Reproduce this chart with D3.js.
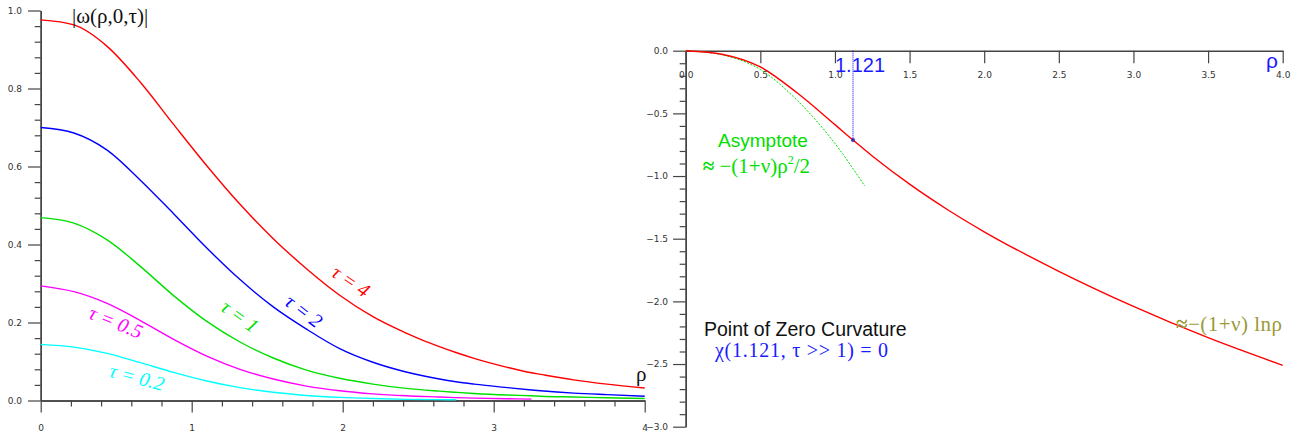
<!DOCTYPE html>
<html>
<head>
<meta charset="utf-8">
<script src="https://cdn.jsdelivr.net/npm/d3@7.9.0/dist/d3.min.js"></script>
<style>
  html, body { margin: 0; padding: 0; background: #fff; }
  svg { display: block; }
</style>
</head>
<body>
<svg id="chart" width="1300" height="436"></svg>
<script>
"use strict";

// ---- left panel: |omega(rho,0,tau)| for several tau ----
const RHO_L = [0, 0.22, 0.44, 0.66, 0.88, 1.10, 1.32, 1.54, 1.76, 1.98, 2.20, 2.42, 2.64, 2.75, 2.87, 3.09, 3.25, 3.31, 3.53, 3.75, 4.0];
const OMEGA_TAU4 = [0.976, 0.963, 0.908, 0.816, 0.708, 0.602, 0.503, 0.415, 0.338, 0.270, 0.215, 0.173, 0.138, 0.123, 0.108, 0.085, 0.071, 0.067, 0.053, 0.042, 0.032];
const OMEGA_TAU2 = [0.700, 0.686, 0.642, 0.565, 0.479, 0.391, 0.310, 0.240, 0.183, 0.133, 0.098, 0.073, 0.055, 0.048, 0.042, 0.033, 0.027, 0.025, 0.019, 0.015, 0.011];
const OMEGA_TAU1 = [0.469, 0.455, 0.412, 0.344, 0.269, 0.203, 0.150, 0.109, 0.078, 0.057, 0.042, 0.031, 0.024, 0.021, 0.018, 0.014, 0.012, 0.011, 0.009, 0.007, 0.005];
const OMEGA_TAU05 = [0.294, 0.279, 0.249, 0.205, 0.157, 0.114, 0.080, 0.055, 0.037, 0.025, 0.017, 0.012, 0.009, 0.0075, 0.0062, 0.0045, 0.0035, null, null, null, null];
const OMEGA_TAU02 = [0.144, 0.137, 0.121, 0.097, 0.072, 0.050, 0.033, 0.021, 0.013, 0.008, 0.005, 0.003, 0.0022, 0.002, null, null, null, null, null, null, null];

const LEFT_SERIES = [
    { label: "τ = 4", values: OMEGA_TAU4, color: "#ff0000" },
    { label: "τ = 2", values: OMEGA_TAU2, color: "#0000ff" },
    { label: "τ = 1", values: OMEGA_TAU1, color: "#00e000" },
    { label: "τ = 0.5", values: OMEGA_TAU05, color: "#ff00ff" },
    { label: "τ = 0.2", values: OMEGA_TAU02, color: "#00ffff" },
];

// ---- right panel: chi(rho) for tau >> 1 and its small-rho asymptote ----
const RHO_R = [0, 0.25, 0.5, 0.75, 1.0, 1.121, 1.25, 1.5, 1.75, 2.0, 2.5, 3.0, 3.5, 4.0];
const CHI = [0, -0.03, -0.13, -0.34, -0.59, -0.713, -0.840, -1.065, -1.265, -1.445, -1.760, -2.040, -2.290, -2.510];
const RHO_ASYM = [0, 0.25, 0.5, 0.75, 1.0, 1.2];
const CHI_ASYM = [0, -0.035, -0.15, -0.40, -0.74, -1.08];
const ZERO_CURV = [1.121, -0.713];

const LEFT_X_TICKS = [0, 1, 2, 3, 4];
const LEFT_Y_TICKS = [0, 0.2, 0.4, 0.6, 0.8, 1.0];
const RIGHT_X_TICKS = [0, 0.5, 1, 1.5, 2, 2.5, 3, 3.5, 4];
const RIGHT_Y_TICKS = [-3, -2.5, -2, -1.5, -1, -0.5, 0];

const AXIS_COLOR = "#444";
const TICK_FONT = "DejaVu Sans, sans-serif";
const SERIF = "Liberation Serif, Times New Roman, serif";
const SANS = "Liberation Sans, Arial, sans-serif";

const svg = d3.select("#chart");

const xL = d3.scaleLinear().domain([0, 4]).range([40.7, 644.7]);
const yL = d3.scaleLinear().domain([0, 1]).range([400.5, 10.5]);
const xR = d3.scaleLinear().domain([0, 4]).range([685.7, 1282.7]);
const yR = d3.scaleLinear().domain([-3, 0]).range([426.7, 50.7]);

function minorTicks(lo, hi, step, majorStep) {
    const out = [];
    const n = Math.round((hi - lo) / step);
    for (let i = 0; i <= n; i++) {
        const v = lo + i * step;
        const r = v / majorStep;
        if (Math.abs(r - Math.round(r)) > 1e-6) out.push(v);
    }
    return out;
}

function styleAxis(g) {
    g.select(".domain").attr("stroke", AXIS_COLOR).attr("stroke-width", 1.4);
    g.selectAll(".tick line").attr("stroke", AXIS_COLOR).attr("stroke-width", 1.2);
    g.selectAll(".tick text")
        .attr("fill", "#333")
        .style("font-family", TICK_FONT)
        .style("font-size", "9px");
}

// Left axes
svg.append("g")
    .attr("transform", `translate(0, ${yL(0)})`)
    .call(d3.axisBottom(xL).tickValues(minorTicks(0, 4, 0.2, 1)).tickSize(6).tickSizeOuter(0).tickFormat(""))
    .call(styleAxis);
svg.append("g")
    .attr("transform", `translate(0, ${yL(0)})`)
    .call(d3.axisBottom(xL).tickValues(LEFT_X_TICKS).tickSize(12).tickSizeOuter(0).tickPadding(12).tickFormat(d3.format("d")))
    .call(styleAxis);
svg.append("g")
    .attr("transform", `translate(${xL(0)}, 0)`)
    .call(d3.axisLeft(yL).tickValues(minorTicks(0, 1, 0.04, 0.2)).tickSize(6).tickSizeOuter(0).tickFormat(""))
    .call(styleAxis);
svg.append("g")
    .attr("transform", `translate(${xL(0)}, 0)`)
    .call(d3.axisLeft(yL).tickValues(LEFT_Y_TICKS).tickSize(12.7).tickSizeOuter(0).tickPadding(6).tickFormat(d3.format(".1f")))
    .call(styleAxis);

// Left curves
const lineL = d3.line()
    .defined((d) => d[1] != null)
    .x((d) => xL(d[0]))
    .y((d) => yL(d[1]))
    .curve(d3.curveMonotoneX);

svg.append("g")
    .selectAll("path")
    .data(LEFT_SERIES)
    .join("path")
    .attr("fill", "none")
    .attr("stroke", (d) => d.color)
    .attr("stroke-width", 1.4)
    .attr("d", (d) => lineL(RHO_L.map((r, i) => [r, d.values[i]])));

// Curve labels (centre x, centre y, rotation)
const LABEL_POS = [
    [351, 281, 34],
    [304, 311, 37],
    [240, 316, 36],
    [116, 322, 22],
    [137, 377, 15],
];
svg.append("g")
    .selectAll("text")
    .data(LEFT_SERIES)
    .join("text")
    .attr("transform", (d, i) => `translate(${LABEL_POS[i][0]}, ${LABEL_POS[i][1]}) rotate(${LABEL_POS[i][2]})`)
    .attr("text-anchor", "middle")
    .attr("dy", "0.35em")
    .attr("fill", (d) => d.color)
    .style("font-family", SERIF)
    .style("font-style", "italic")
    .style("font-size", "20px")
    .text((d) => d.label);

svg.append("text")
    .attr("x", 72).attr("y", 23)
    .attr("fill", "#111")
    .style("font-family", SERIF)
    .style("font-size", "21px")
    .text("|ω(ρ,0,τ)|");

svg.append("text")
    .attr("x", 636).attr("y", 381)
    .attr("fill", "#111")
    .style("font-family", SERIF)
    .style("font-size", "21px")
    .text("ρ");

// Right axes
svg.append("g")
    .attr("transform", `translate(0, ${yR(0)})`)
    .call(d3.axisBottom(xR).tickValues(RIGHT_X_TICKS).tickSize(12.6).tickSizeOuter(0).tickPadding(8.6).tickFormat(d3.format(".1f")))
    .call(styleAxis);
svg.append("g")
    .attr("transform", `translate(${xR(0)}, 0)`)
    .call(d3.axisLeft(yR).tickValues(minorTicks(-3, 0, 0.1, 0.5)).tickSize(6).tickSizeOuter(0).tickFormat(""))
    .call(styleAxis);
svg.append("g")
    .attr("transform", `translate(${xR(0)}, 0)`)
    .call(d3.axisLeft(yR).tickValues(RIGHT_Y_TICKS).tickSize(12.6).tickSizeOuter(0).tickPadding(5).tickFormat(d3.format(".1f")))
    .call(styleAxis);

const lineR = d3.line()
    .x((d) => xR(d[0]))
    .y((d) => yR(d[1]))
    .curve(d3.curveMonotoneX);

// asymptote (dotted green)
svg.append("path")
    .attr("fill", "none")
    .attr("stroke", "#00dd00")
    .attr("stroke-width", 1)
    .attr("stroke-dasharray", "2,1.5")
    .attr("d", lineR(RHO_ASYM.map((r, i) => [r, CHI_ASYM[i]])));

// zero-curvature marker line
svg.append("line")
    .attr("x1", xR(ZERO_CURV[0])).attr("x2", xR(ZERO_CURV[0]))
    .attr("y1", yR(0)).attr("y2", yR(ZERO_CURV[1]))
    .attr("stroke", "#0000ff")
    .attr("stroke-width", 1)
    .attr("stroke-dasharray", "1,1");

svg.append("path")
    .attr("fill", "none")
    .attr("stroke", "#ff0000")
    .attr("stroke-width", 1.4)
    .attr("d", lineR(RHO_R.map((r, i) => [r, CHI[i]])));

svg.append("circle")
    .attr("cx", xR(ZERO_CURV[0]))
    .attr("cy", yR(ZERO_CURV[1]))
    .attr("r", 2)
    .attr("fill", "#5028b0");

svg.append("text")
    .attr("x", 835).attr("y", 72)
    .attr("fill", "#1a1aff")
    .style("font-family", SANS)
    .style("font-size", "20px")
    .text(d3.format(".3f")(ZERO_CURV[0]));

svg.append("text")
    .attr("x", 1266).attr("y", 68)
    .attr("fill", "#1a1aff")
    .style("font-family", SANS)
    .style("font-size", "21px")
    .text("ρ");

svg.append("text")
    .attr("x", 763).attr("y", 147)
    .attr("text-anchor", "middle")
    .attr("fill", "#00dd00")
    .style("font-family", SANS)
    .style("font-size", "19px")
    .text("Asymptote");

const asymText = svg.append("text")
    .attr("x", 810).attr("y", 173)
    .attr("text-anchor", "end")
    .attr("fill", "#00dd00")
    .style("font-family", SERIF)
    .style("font-size", "21px");
asymText.append("tspan").style("font-weight", "bold").text("≈ ");
asymText.append("tspan").text("−(1+ν)ρ");
asymText.append("tspan").attr("dy", -9).style("font-size", "12px").text("2");
asymText.append("tspan").attr("dy", 9).text("/2");

svg.append("text")
    .attr("x", 704).attr("y", 336)
    .attr("fill", "#111")
    .style("font-family", SANS)
    .style("font-size", "19.5px")
    .text("Point of Zero Curvature");

svg.append("text")
    .attr("x", 715).attr("y", 357)
    .attr("fill", "#1a1aff")
    .attr("textLength", 173)
    .attr("lengthAdjust", "spacing")
    .style("font-family", SERIF)
    .style("font-size", "20px")
    .text("χ(1.121, τ >> 1) = 0");

const lnText = svg.append("text")
    .attr("x", 1176).attr("y", 331)
    .attr("fill", "#9a9a3a")
    .attr("textLength", 106)
    .attr("lengthAdjust", "spacing")
    .style("font-family", SERIF)
    .style("font-size", "21px");
lnText.append("tspan").style("font-weight", "bold").text("≈");
lnText.append("tspan").text("−(1+ν) lnρ");
</script>
</body>
</html>
